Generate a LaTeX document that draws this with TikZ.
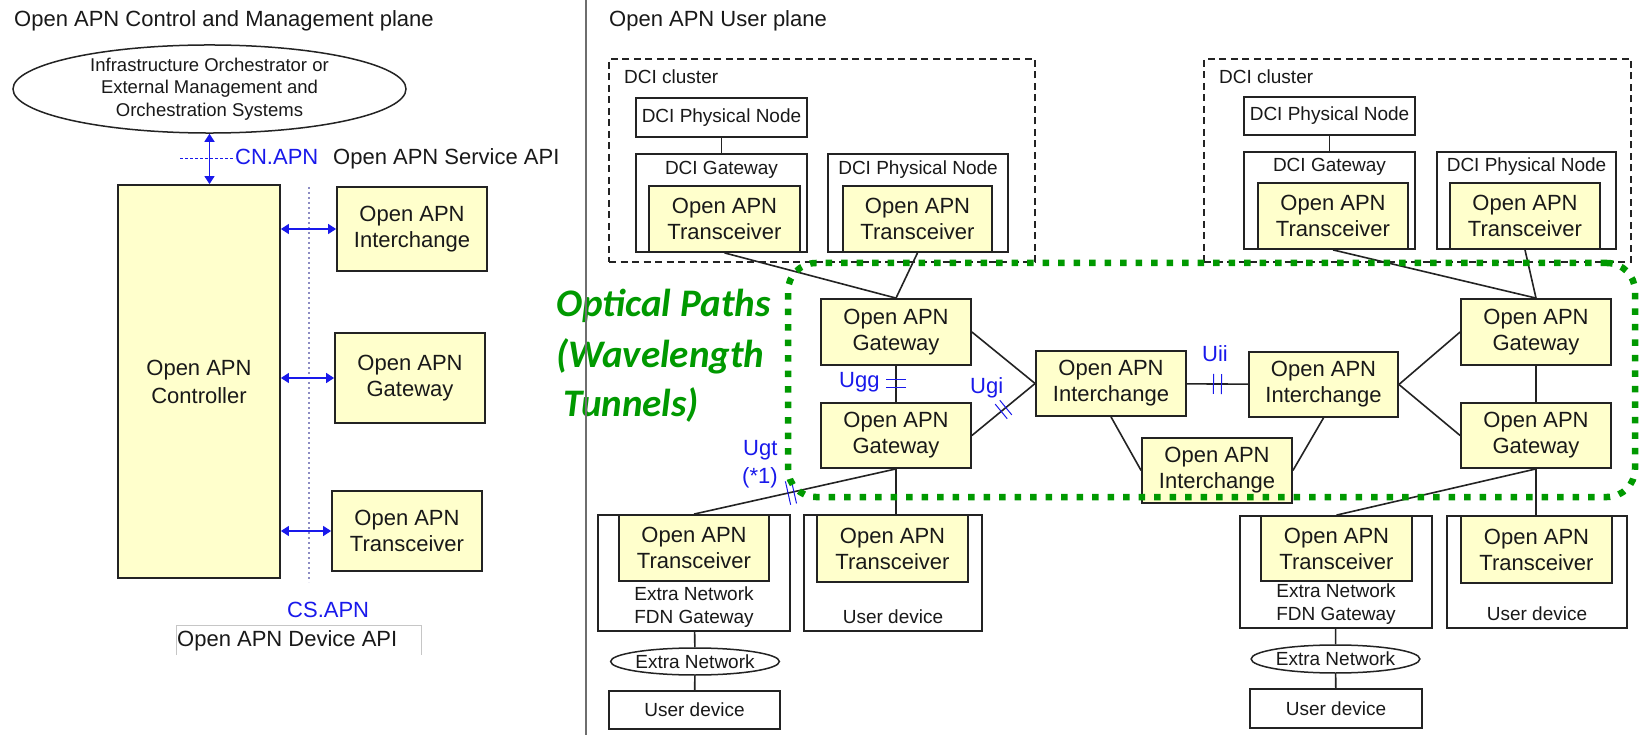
\documentclass[tikz,border=0pt]{standalone}
\usepackage{fontspec}
\setmainfont{Liberation Sans}
\newfontfamily\greenfont{Carlito}
\usetikzlibrary{arrows.meta,calc,shapes.geometric}
\definecolor{apnyellow}{RGB}{255,255,204}
\definecolor{apnblue}{RGB}{25,25,235}
\definecolor{apngreen}{RGB}{0,153,0}
\definecolor{apnedge}{RGB}{35,35,35}
\definecolor{dotblue}{RGB}{140,140,195}
\definecolor{divgray}{RGB}{110,110,110}
\newcommand{\boxat}[7]{\node[#1,minimum width={(#5)-(#3)},minimum height={(#6)-(#4)}] (#2) at ({((#3)+(#5))/2},{((#4)+(#6))/2}) {#7};}
\newcommand{\dtick}[6]{%
  \coordinate (#6m) at ($(#1)!#3!(#2)$);
  \coordinate (#6a) at ($(#6m)!#4!(#2)$);
  \coordinate (#6b) at ($(#6m)!-#4!(#2)$);
  \draw[tickline] ($(#6a)!#5!90:(#2)$) -- ($(#6a)!#5!-90:(#2)$);
  \draw[tickline] ($(#6b)!#5!90:(#2)$) -- ($(#6b)!#5!-90:(#2)$);
}
\tikzset{
  ybox/.style={draw=apnedge, fill=apnyellow, line width=1.8pt, inner sep=0pt, align=center, text=black!90, font=\fontsize{22}{26}\selectfont},
  wbox/.style={draw=apnedge, fill=white, line width=1.6pt, inner sep=0pt, align=center, text=black!90, font=\fontsize{19}{23}\selectfont},
  ellbox/.style={draw=apnedge, fill=white, ellipse, line width=1.5pt, inner sep=0pt, align=center, text=black!90},
  cluster/.style={draw=apnedge, line width=1.5pt, dash pattern=on 7pt off 4.5pt, inner sep=0pt},
  greenbox/.style={draw=apngreen, line width=6.5pt, dash pattern=on 6.5pt off 9pt, rounded corners=28pt, inner sep=0pt},
  lbl/.style={inner sep=0pt, anchor=base west, text=black!90, font=\fontsize{22}{26}\selectfont},
  slbl/.style={inner sep=0pt, anchor=base, text=black!90, font=\fontsize{19}{23}\selectfont},
  slblw/.style={inner sep=0pt, anchor=base west, text=black!90, font=\fontsize{19}{23}\selectfont},
  blbl/.style={inner sep=0pt, anchor=base west, text=apnblue, font=\fontsize{22}{26}\selectfont},
  gtxt/.style={inner sep=0pt, anchor=base west, text=apngreen, font=\greenfont\fontsize{39}{50}\selectfont\bfseries\itshape},
  conn/.style={draw=apnedge, line width=1.6pt},
  apiarrow/.style={draw=apnblue, line width=1.3pt, {Triangle[length=8pt,width=10pt]}-{Triangle[length=8pt,width=10pt]}},
  tickline/.style={draw=apnblue, line width=1pt},
}
\begin{document}
\begin{tikzpicture}[x=1pt,y=-1pt]
\useasboundingbox[fill=white] (0,0) rectangle (1642,735);

% ---------------- Control and management plane ----------------
\node[lbl] (titleC) at (14,27) {Open APN Control and Management plane};
\node[ellbox, minimum width=393pt, minimum height=86pt, font=\fontsize{18.5}{22.5}\selectfont] (ell) at (209.5,89)
  {Infrastructure Orchestrator or\\External Management and\\Orchestration Systems};
\boxat{ybox, font=\fontsize{22}{28}\selectfont}{ctrl}{118}{185}{280}{578}{Open APN\\Controller}
\boxat{ybox}{ixC}{337}{187}{487}{271}{Open APN\\Interchange}
\boxat{ybox}{gwC}{335}{333}{485}{423}{Open APN\\Gateway}
\boxat{ybox}{trC}{332}{491}{482}{571}{Open APN\\Transceiver}

\coordinate (dT) at (309,187);
\coordinate (dB) at (309,582);
\draw[dotblue, line width=1.3pt, dash pattern=on 2pt off 3pt] (dT) -- (dB);

\node[blbl] (cn) at (235,165) {CN.APN};
\node[lbl] (svc) at (333,165) {Open APN Service API};
\coordinate (cnL) at (180,158);
\draw[apnblue, line width=0.8pt, dash pattern=on 3pt off 2pt] (cnL) -- (cn.west |- cnL);
\draw[apiarrow] (ell.south) -- (ell.south |- ctrl.north);
\draw[apiarrow] (ctrl.east |- ixC.west) -- (ixC.west);
\draw[apiarrow] (ctrl.east |- gwC.west) -- (gwC.west);
\draw[apiarrow] (ctrl.east |- trC.west) -- (trC.west);

\node[blbl] (cs) at (287,617) {CS.APN};
\node[lbl] (dev) at (177,646) {Open APN Device API};
\coordinate (devA) at (176,655);
\coordinate (devB) at (176,625);
\coordinate (devC) at (421,625);
\coordinate (devD) at (421,655);
\draw[gray!45, line width=1pt] (devA) -- (devB) -- (devC) -- (devD);

% ---------------- User plane ----------------
\node[lbl] (titleU) at (609,27) {Open APN User plane};

% green text
\node[gtxt] (gt1) at (556,317) {Optical Paths};
\node[gtxt] (gt2) at (556,367) {(Wavelength};
\node[gtxt] (gt3) at (563,417) {Tunnels)};

% left DCI cluster
\boxat{cluster}{clL}{609}{59}{1035}{262}{}
\node[slblw] (clLt) at (624,84) {DCI cluster};
\boxat{wbox}{pn1}{636}{98}{807}{137}{DCI Physical Node}
\boxat{wbox}{gw1o}{636}{154}{807}{252}{}
\node[slbl] (gw1t) at (721.5,175) {DCI Gateway};
\boxat{ybox}{tx1}{649}{186}{800}{252}{Open APN\\Transceiver}
\boxat{wbox}{pn2o}{828}{154}{1008}{252}{}
\node[slbl] (pn2t) at (918,175) {DCI Physical Node};
\boxat{ybox}{tx2}{843}{186}{992}{252}{Open APN\\Transceiver}

% right DCI cluster
\boxat{cluster}{clR}{1204}{59}{1631}{262}{}
\node[slblw] (clRt) at (1219,84) {DCI cluster};
\boxat{wbox}{pn3}{1244}{97}{1415}{135}{DCI Physical Node}
\boxat{wbox}{gw2o}{1244}{152}{1415}{249}{}
\node[slbl] (gw2t) at (1329.5,172) {DCI Gateway};
\boxat{ybox}{tx3}{1258}{183}{1408}{249}{Open APN\\Transceiver}
\boxat{wbox}{pn4o}{1437}{152}{1616}{249}{}
\node[slbl] (pn4t) at (1526.5,172) {DCI Physical Node};
\boxat{ybox}{tx4}{1450}{183}{1600}{249}{Open APN\\Transceiver}

% optical path nodes
\boxat{ybox}{gwT1}{821}{299}{971}{365}{Open APN\\Gateway}
\boxat{ybox}{gwB1}{821}{403}{971}{468}{Open APN\\Gateway}
\boxat{ybox}{ixL}{1036}{351}{1186}{416}{Open APN\\Interchange}
\boxat{ybox}{ixR}{1249}{352}{1398}{417}{Open APN\\Interchange}
\boxat{ybox}{ixB}{1142}{438}{1292}{503}{Open APN\\Interchange}
\boxat{ybox}{gwT2}{1461}{299}{1611}{365}{Open APN\\Gateway}
\boxat{ybox}{gwB2}{1461}{403}{1611}{468}{Open APN\\Gateway}

% bottom left
\boxat{wbox}{fdn1}{598}{515}{790}{631}{}
\boxat{ybox}{trF1}{619}{515}{769}{581}{Open APN\\Transceiver}
\node[slbl] (fdn1a) at (694,600) {Extra Network};
\node[slbl] (fdn1b) at (694,623) {FDN Gateway};
\boxat{wbox}{ud1o}{804}{515}{982}{631}{}
\boxat{ybox}{trU1}{817}{515}{968}{582}{Open APN\\Transceiver}
\node[slbl] (ud1t) at (893,623) {User device};
\node[ellbox, minimum width=164pt, minimum height=27pt, font=\fontsize{19}{23}\selectfont] (en1) at (695,661.5) {Extra Network};
\boxat{wbox}{ud1}{609}{691}{780}{729}{User device}

% bottom right
\boxat{wbox}{fdn2}{1240}{516}{1432}{628}{}
\boxat{ybox}{trF2}{1261}{516}{1412}{581}{Open APN\\Transceiver}
\node[slbl] (fdn2a) at (1336,597) {Extra Network};
\node[slbl] (fdn2b) at (1336,620) {FDN Gateway};
\boxat{wbox}{ud2o}{1447}{516}{1627}{628}{}
\boxat{ybox}{trU2}{1461}{516}{1612}{583}{Open APN\\Transceiver}
\node[slbl] (ud2t) at (1537,620) {User device};
\node[ellbox, minimum width=163pt, minimum height=28pt, font=\fontsize{19}{23}\selectfont] (en2) at (1335.5,659) {Extra Network};
\boxat{wbox}{ud2}{1250}{689}{1422}{728}{User device}

% connectors
\draw[conn] (pn1) -- (gw1o);
\draw[conn] (pn3) -- (gw2o);
\draw[conn] (tx1.south) -- (gwT1.north);
\draw[conn] (tx2.south) -- (gwT1.north);
\draw[conn] (tx3.south) -- (gwT2.north);
\draw[conn] (tx4.south) -- (gwT2.north);
\draw[conn] (gwT1) -- (gwB1);
\draw[conn] (gwT2) -- (gwB2);
\draw[conn] (gwT1.east) -- (ixL.west);
\draw[conn] (gwB1.east) -- (ixL.west);
\draw[conn] (ixL) -- (ixR);
\draw[conn] (ixL.south) -- (ixB.west);
\draw[conn] (ixR.south) -- (ixB.east);
\draw[conn] (ixR.east) -- (gwT2.west);
\draw[conn] (ixR.east) -- (gwB2.west);
\draw[conn] (gwB1.south) -- (trF1.north);
\draw[conn] (gwB1.south) -- (gwB1.south |- trU1.north);
\draw[conn] (gwB2.south) -- (trF2.north);
\draw[conn] (gwB2.south) -- (gwB2.south |- trU2.north);
\draw[conn] (fdn1) -- (en1);
\draw[conn] (en1) -- (ud1);
\draw[conn] (fdn2) -- (en2);
\draw[conn] (en2) -- (ud2);

% reference point marks and labels
\dtick{gwT1.south}{gwB1.north}{0.5}{4pt}{10pt}{tgg}
\dtick{gwB1.east}{ixL.west}{0.5}{3pt}{9.5pt}{tgi}
\dtick{ixL.east}{ixR.west}{0.5}{4pt}{10pt}{tii}
\dtick{gwB1.south}{trF1.north}{0.52}{3pt}{12pt}{tgt}
\node[blbl] (ugg) at (839,388) {Ugg};
\node[blbl] (ugi) at (970,393) {Ugi};
\node[blbl] (uii) at (1202,362) {Uii};
\node[blbl] (ugt) at (743,455) {Ugt};
\node[blbl] (ugt1) at (742,483) {(*1)};

% optical path region
\boxat{greenbox}{opt}{788}{263}{1635}{497}{}

% divider
\coordinate (divT) at (586,0);
\coordinate (divB) at (586,735);
\draw[divgray, line width=1.2pt] (divT) -- (divB);
\end{tikzpicture}
\end{document}
